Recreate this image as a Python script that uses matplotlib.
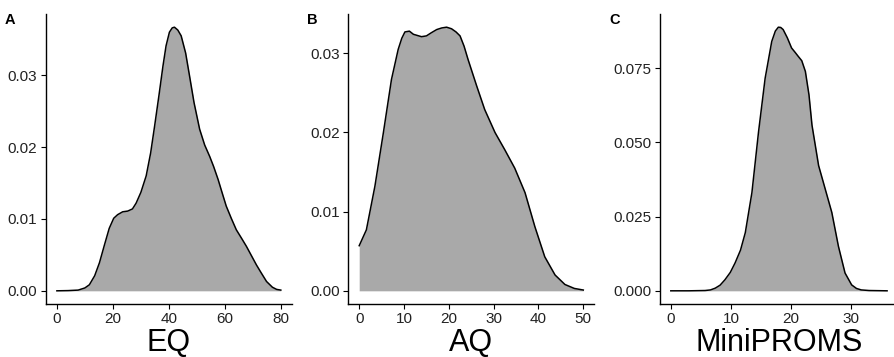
import matplotlib.pyplot as plt

plt.rcParams['font.family'] = ['Liberation Sans', 'DejaVu Sans']

# density curves
eq_x = [0, 4, 7.6, 10, 11.6, 13.5, 15.2, 17, 18.7, 20.3, 21.7, 23.5, 25.3, 27, 28.3, 30, 31.9,
        33.5, 34.9, 36.5, 37.9, 39, 40.2, 41.2, 42, 43.2, 44.4, 46, 47.4, 49, 51, 52.8, 54.6,
        56, 57.6, 59, 60.5, 62.3, 64.1, 66, 67.7, 69.5, 71.3, 73, 74.9, 77, 78.5, 80]
eq_y = [0, 0.00003, 0.0001, 0.0004, 0.00084, 0.0021, 0.0039, 0.0064, 0.0087, 0.0101, 0.0106,
        0.011, 0.0111, 0.0114, 0.0122, 0.0137, 0.016, 0.0192, 0.0229, 0.0273, 0.0313, 0.0341,
        0.036, 0.0366, 0.0367, 0.0363, 0.0355, 0.0331, 0.0299, 0.0262, 0.0225, 0.0203, 0.0187,
        0.0173, 0.0155, 0.0137, 0.0118, 0.0101, 0.0085, 0.0073, 0.0062, 0.0049, 0.0036, 0.0025,
        0.0013, 0.0005, 0.0002, 0.0001]

aq_x = [0, 1.6, 3.5, 5.4, 7.2, 8.7, 9.5, 10.2, 11.2, 12.1, 13.9, 15, 16.1, 17.3, 18.4, 19.5,
        20.6, 21.6, 22.5, 23.4, 24.3, 26.2, 28, 30.3, 32.5, 34.7, 37, 39.2, 41.4, 43.7, 45.9,
        48, 50]
aq_y = [0.0057, 0.0077, 0.0132, 0.02, 0.0267, 0.0305, 0.0319, 0.0327, 0.0328, 0.0324, 0.0321,
        0.0322, 0.0326, 0.033, 0.0332, 0.0333, 0.0331, 0.0327, 0.0322, 0.0309, 0.0292, 0.0259,
        0.0229, 0.02, 0.0178, 0.0155, 0.0124, 0.0081, 0.0043, 0.002, 0.0008, 0.0003, 0.0001]

mp_x = [0, 3, 5.7, 6.6, 7.4, 8.2, 9.0, 9.9, 10.7, 11.6, 12.4, 13.5, 14.6, 15.7, 16.8, 17.4,
        17.9, 18.3, 18.7, 19.4, 20.1, 20.7, 21.2, 21.8, 22.4, 23, 23.5, 24.6, 25.7, 26.8, 27.9,
        29.0, 30.1, 30.9, 31.7, 33, 36]
mp_y = [0, 0, 0.0001, 0.0003, 0.0009, 0.0019, 0.0037, 0.0062, 0.0094, 0.0137, 0.0196, 0.0331,
        0.0535, 0.0716, 0.084, 0.0875, 0.0888, 0.0887, 0.088, 0.0852, 0.0818, 0.0803, 0.079,
        0.0775, 0.0739, 0.066, 0.0558, 0.0422, 0.0343, 0.0264, 0.015, 0.006, 0.002, 0.0008,
        0.0003, 0.0001, 0]

panels = [
    ('A', 'EQ', eq_x, eq_y, [0, 20, 40, 60, 80], [0.00, 0.01, 0.02, 0.03], '{:.2f}'),
    ('B', 'AQ', aq_x, aq_y, [0, 10, 20, 30, 40, 50], [0.00, 0.01, 0.02, 0.03], '{:.2f}'),
    ('C', 'MiniPROMS', mp_x, mp_y, [0, 10, 20, 30], [0.000, 0.025, 0.050, 0.075], '{:.3f}'),
]

W, H = 895, 357
# axes boxes in pixels: left, right, top, bottom
boxes = [(45.7, 292.0, 14, 304), (348.0, 594.5, 14, 304), (660.0, 897.9, 14, 304)]
label_pos = [(5, 24), (307, 24), (609, 24)]

fig = plt.figure(figsize=(W / 100, H / 100), dpi=100)

for (tag, name, xs, ys, xt, yt, fmt), (l, r, t, b), (lx, ly) in zip(panels, boxes, label_pos):
    ax = fig.add_axes([l / W, 1 - b / H, (r - l) / W, (b - t) / H])
    ax.fill_between(xs, 0, ys, color='#a9a9a9', linewidth=0)
    ax.plot(xs, ys, color='black', linewidth=1.1)
    span = xs[-1] - xs[0]
    ymax = max(ys)
    ax.set_xlim(xs[0] - 0.05 * span, xs[-1] + 0.05 * span)
    ax.set_ylim(-0.05 * ymax, 1.05 * ymax)
    ax.set_xticks(xt)
    ax.set_yticks(yt)
    ax.set_yticklabels([fmt.format(v) for v in yt])
    for s in ['top', 'right']:
        ax.spines[s].set_visible(False)
    for s in ['left', 'bottom']:
        ax.spines[s].set_linewidth(1.0)
    ax.tick_params(length=3.5, width=0.8, labelsize=11, pad=2.5, colors='black',
                   labelcolor='#222222')
    ax.set_xlabel(name, fontsize=22, labelpad=1)
    fig.text(lx / W, 1 - ly / H, tag, fontsize=10.5, fontweight='bold')

fig.savefig('out.png', dpi=100)
